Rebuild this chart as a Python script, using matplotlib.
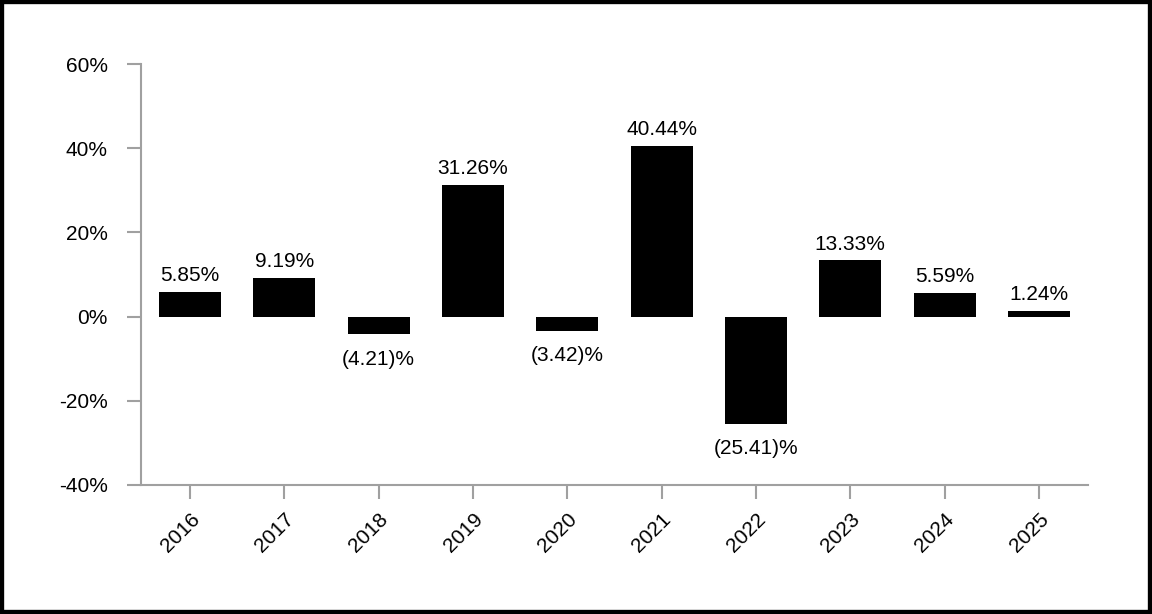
import matplotlib
matplotlib.use("Agg")
import matplotlib.pyplot as plt
from matplotlib.patches import Rectangle

plt.rcParams['font.family'] = ['Liberation Sans', 'DejaVu Sans']

# data
years = ["2016", "2017", "2018", "2019", "2020", "2021", "2022", "2023", "2024", "2025"]
returns = [5.85, 9.19, -4.21, 31.26, -3.42, 40.44, -25.41, 13.33, 5.59, 1.24]
y_ticks = [-40, -20, 0, 20, 40, 60]


def fmt(v):
    if v < 0:
        return f"({abs(v):.2f})%"
    return f"{v:.2f}%"


fig = plt.figure(figsize=(11.52, 6.14), dpi=100)
ax = fig.add_axes([141 / 1152, 1 - 485 / 614, (1088 - 141) / 1152, (485 - 64) / 614])

x = list(range(len(years)))
ax.bar(x, returns, width=0.66, color="black", zorder=3)

# value labels above / below each bar
for xi, v in zip(x, returns):
    if v >= 0:
        ax.annotate(fmt(v), (xi, v), xytext=(0, 5), textcoords="offset points",
                    ha="center", va="bottom", fontsize=15)
    else:
        ax.annotate(fmt(v), (xi, v), xytext=(0, -11), textcoords="offset points",
                    ha="center", va="top", fontsize=15)

ax.set_xlim(-0.52, 9.52)
ax.set_ylim(-40, 60)
ax.set_xticks(x)
ax.set_xticklabels(years, rotation=45, ha="right", rotation_mode="anchor", fontsize=15)
ax.set_yticks(y_ticks)
ax.set_yticklabels([f"{t}%" for t in y_ticks], fontsize=15)

gray = "#a0a0a0"
for side in ["top", "right"]:
    ax.spines[side].set_visible(False)
for side in ["left", "bottom"]:
    ax.spines[side].set_color(gray)
    ax.spines[side].set_linewidth(1.5)
ax.tick_params(axis="both", direction="out", length=10, width=1.5, color=gray)
ax.tick_params(axis="y", pad=14)
ax.tick_params(axis="x", pad=8)

# black frame round the whole picture
fig.patches.append(Rectangle((0, 0), 1, 1, transform=fig.transFigure, fill=False,
                             edgecolor="black", linewidth=6, zorder=10))

fig.savefig("out.png", dpi=100)
